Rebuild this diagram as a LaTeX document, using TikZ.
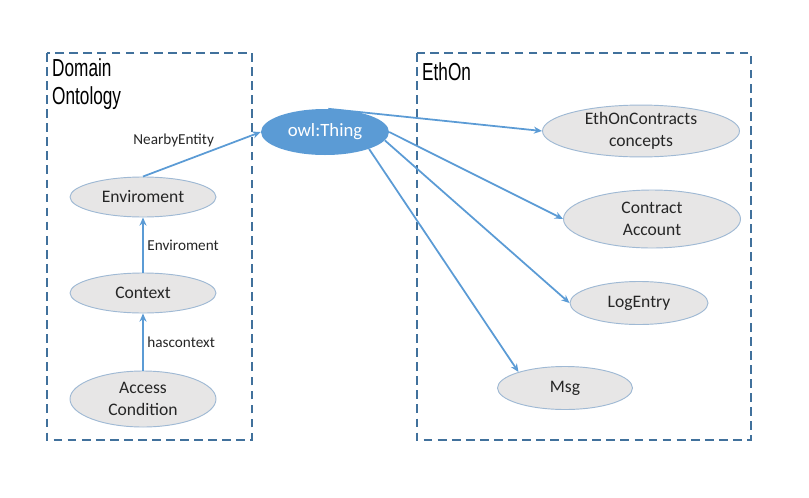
\documentclass[tikz,border=0pt]{standalone}
\usepackage{fontspec}
\setmainfont{Carlito}
\newfontfamily\titlefont{Liberation Sans}
\usetikzlibrary{shapes,arrows.meta}
\usepackage{xcolor}
\definecolor{boxblue}{HTML}{41719C}
\definecolor{linkblue}{HTML}{5B9BD5}
\definecolor{conceptgray}{HTML}{E7E6E6}
\definecolor{conceptedge}{HTML}{9FB9D4}
\definecolor{inkgray}{HTML}{262626}

\begin{document}
\begin{tikzpicture}[
    x=0.03cm, y=-0.03cm,
    concept/.style={ellipse, draw=conceptedge, fill=conceptgray, line width=0.8pt, align=center, inner sep=0pt, text=inkgray, font=\fontsize{15}{18.5}\selectfont},
    root/.style={ellipse, fill=linkblue, inner sep=0pt, text=white, font=\fontsize{16}{19}\selectfont},
    region/.style={draw=boxblue, line width=2pt, dash pattern=on 7.5pt off 4.5pt},
    regionlabel/.style={anchor=north west, inner sep=0pt, align=left, font=\titlefont\fontsize{21}{24}\selectfont, xscale=0.7, text=black},
    link/.style={-{Stealth[length=7pt, width=6pt]}, linkblue, line width=1.5pt},
    rel/.style={text=inkgray, inner sep=1pt, font=\fontsize{13}{15}\selectfont}
]
    \useasboundingbox (0,0) rectangle (809,497);

    % ontology regions
    \draw[region] (47,53) rectangle (252,440);
    \draw[region] (417,53) rectangle (751,440);
    \node[regionlabel] (domain) at (52,58) {Domain\\Ontology};
    \node[regionlabel] (ethon) at (422,62) {EthOn};

    % concepts
    \node[root, minimum width=128*0.03cm, minimum height=46*0.03cm] (owl) at (325,132) {owl:Thing};
    \node[concept, minimum width=146*0.03cm, minimum height=40*0.03cm] (env) at (143,197) {Enviroment};
    \node[concept, minimum width=146*0.03cm, minimum height=40*0.03cm] (ctx) at (143,293) {Context};
    \node[concept, minimum width=146*0.03cm, minimum height=56*0.03cm] (acc) at (143,399) {Access\\Condition};
    \node[concept, minimum width=197*0.03cm, minimum height=47*0.03cm] (ethc) at (641,131) {EthOnContracts\\concepts};
    \node[concept, minimum width=177*0.03cm, minimum height=58*0.03cm] (ca) at (652,219) {Contract\\Account};
    \node[concept, minimum width=138*0.03cm, minimum height=43*0.03cm] (log) at (639,303) {LogEntry};
    \node[concept, minimum width=135*0.03cm, minimum height=43*0.03cm] (msg) at (565,388) {Msg};

    % relations
    \draw[link] (acc.north) -- (ctx.south) node[rel, midway, right=2pt] {hascontext};
    \draw[link] (ctx.north) -- (env.south) node[rel, midway, right=2pt] {Enviroment};
    \draw[link] (env.north) -- (owl.west) node[rel, pos=0.3, above=12pt, xshift=-4pt] {NearbyEntity};
    \draw[link] (owl.82) -- (ethc.west);
    \draw[link] (owl.east) -- (ca.west);
    \draw[link] (owl.-8) -- (log.west);
    \draw[link] (owl.-21) -- (msg.161);
\end{tikzpicture}
\end{document}
